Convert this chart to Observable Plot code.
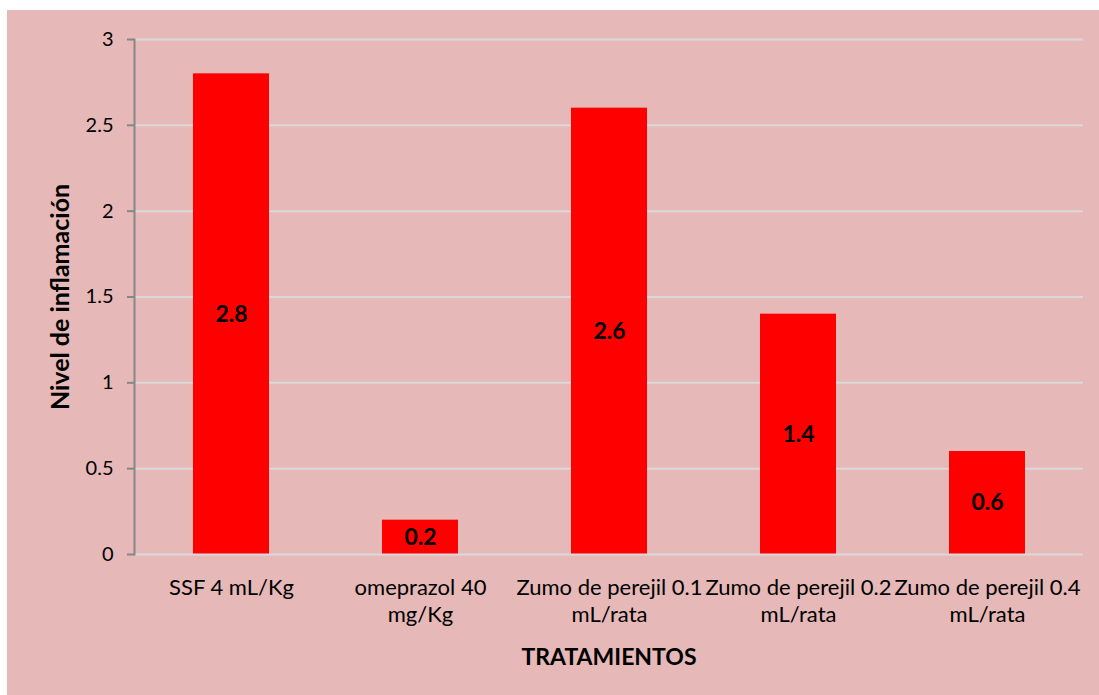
<!DOCTYPE html>
<html>
<head>
<meta charset="utf-8">
<script src="https://cdn.jsdelivr.net/npm/d3@7"></script>
<script src="https://cdn.jsdelivr.net/npm/@observablehq/plot@0.6"></script>
<style>
  html, body { margin: 0; padding: 0; background: #ffffff; }
  #chart { position: absolute; left: 7px; top: 10px; width: 1092px; height: 685px; background: #E6B8B7; }
</style>
</head>
<body>
<div id="chart"></div>
<script>
const categories = ["SSF 4 mL/Kg", "omeprazol 40 mg/Kg", "Zumo de perejil 0.1 mL/rata", "Zumo de perejil 0.2 mL/rata", "Zumo de perejil 0.4 mL/rata"];
const tickLabels = ["SSF 4 mL/Kg", "omeprazol 40\nmg/Kg", "Zumo de perejil 0.1\nmL/rata", "Zumo de perejil 0.2\nmL/rata", "Zumo de perejil 0.4\nmL/rata"];
const values = [2.8, 0.2, 2.6, 1.4, 0.6];
const yTicks = [0, 0.5, 1, 1.5, 2, 2.5, 3];
const yTitle = "Nivel de inflamación";
const xTitle = "TRATAMIENTOS";

const data = categories.map((c, i) => ({cat: c, value: values[i]}));
const labelOf = Object.fromEntries(categories.map((c, i) => [c, tickLabels[i]]));

const chart = Plot.plot({
  width: 1092,
  height: 685,
  marginLeft: 127,
  marginTop: 29,
  marginRight: 16,
  marginBottom: 141,
  style: {background: "transparent", fontFamily: "Lato, sans-serif", fontSize: "20px", color: "#000"},
  x: {domain: categories, paddingInner: 0.6, paddingOuter: 0.3, label: null},
  y: {domain: [0, 3], label: null},
  marks: [
    Plot.gridY(yTicks.filter(d => d > 0), {stroke: "#D9D9D9", strokeOpacity: 1, strokeWidth: 2}),
    Plot.barY(data, {x: "cat", y: "value", fill: "#FF0000"}),
    Plot.ruleY([0], {stroke: "#D9D9D9", strokeWidth: 2}),
    Plot.frame({anchor: "left", stroke: "#868686", strokeWidth: 2}),
    Plot.axisY({ticks: yTicks, tickSize: 7, tickPadding: 14, stroke: "#868686", strokeWidth: 2, fontSize: 20, label: null, tickFormat: d => String(d)}),
    Plot.axisX({tickSize: 0, tickPadding: 21, fontSize: 22, label: null, lineHeight: 1.24, tickFormat: d => labelOf[d]}),
    Plot.text(data, {x: "cat", y: d => d.value / 2, text: d => String(d.value), fontWeight: "bold", fontSize: 23, fill: "#000"}),
    Plot.text([yTitle], {frameAnchor: "left", dx: -74, rotate: -90, textAnchor: "middle", text: d => d, fontWeight: "bold", fontSize: 25, fill: "#000"}),
    Plot.text([xTitle], {frameAnchor: "bottom", dy: 103, textAnchor: "middle", lineAnchor: "middle", text: d => d, fontWeight: "bold", fontSize: 23, fill: "#000"})
  ]
});
document.getElementById("chart").appendChild(chart);
</script>
</body>
</html>
